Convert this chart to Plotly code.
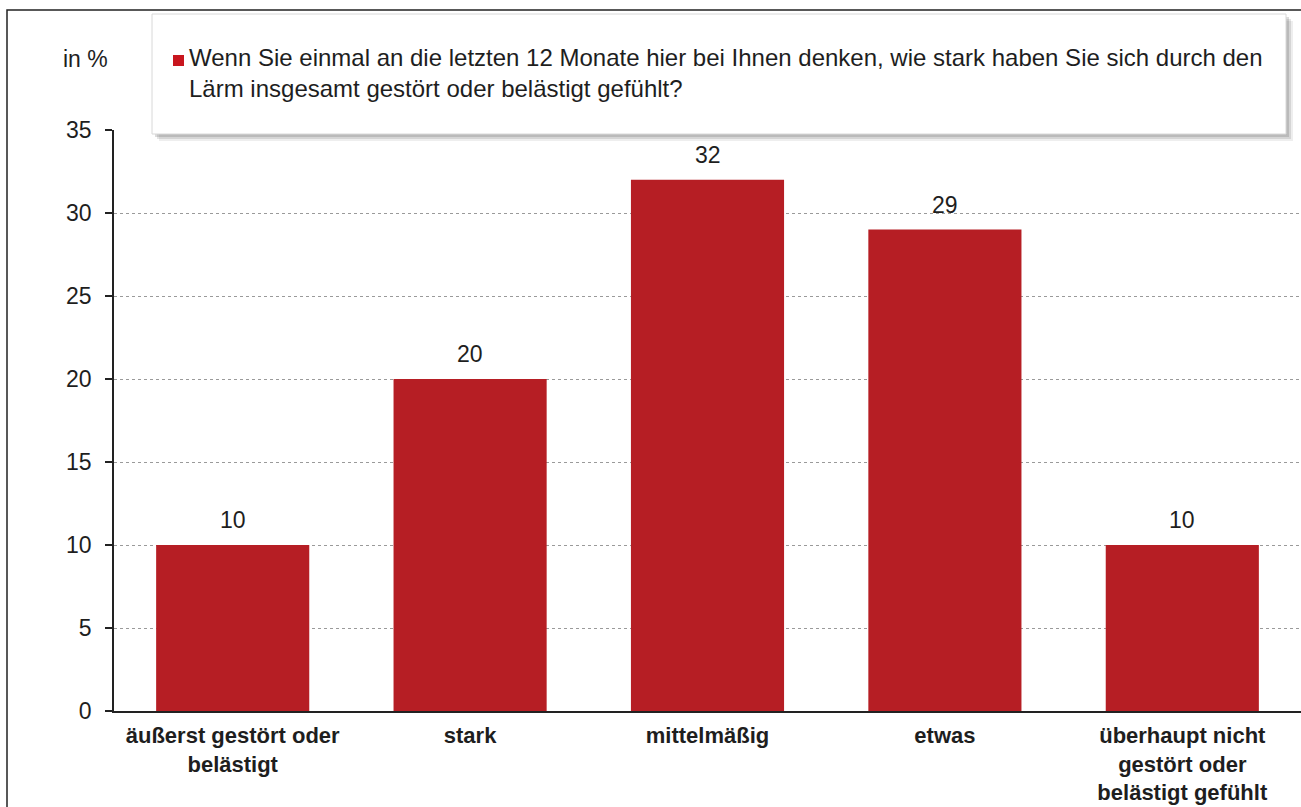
import plotly.graph_objects as go

# Survey answers (percent)
categories = [
    "äußerst gestört oder<br>belästigt",
    "stark",
    "mittelmäßig",
    "etwas",
    "überhaupt nicht<br>gestört oder<br>belästigt gefühlt",
]
values = [10, 20, 32, 29, 10]
y_ticks = [0, 5, 10, 15, 20, 25, 30, 35]
question = ("Wenn Sie einmal an die letzten 12 Monate hier bei Ihnen denken, wie stark haben Sie sich durch den<br>"
            "Lärm insgesamt gestört oder belästigt gefühlt?")

BAR_COLOR = "#B61E24"
FONT = "Liberation Sans, Arial, sans-serif"
TEXT_COLOR = "#1e1e1e"

FIG_W, FIG_H = 1301, 807
M_L, M_R, M_T, M_B = 114, 0, 130, 96
PLOT_W = FIG_W - M_L - M_R
PLOT_H = FIG_H - M_T - M_B


def px_x(px):
    return (px - M_L) / PLOT_W


def px_y(py):
    return (FIG_H - M_B - py) / PLOT_H


fig = go.Figure(
    go.Bar(
        x=categories,
        y=values,
        marker=dict(color=BAR_COLOR, line=dict(width=0)),
        hoverinfo="x+y",
    )
)

shapes = []
# outer frame
shapes.append(dict(type="rect", xref="paper", yref="paper",
                   x0=px_x(7), x1=px_x(1310), y0=px_y(816), y1=px_y(10),
                   line=dict(color="#222222", width=1.5), fillcolor="rgba(0,0,0,0)", layer="below"))
# question box shadow
for off, op in [(7, 0.10), (5, 0.16), (3, 0.22)]:
    shapes.append(dict(type="rect", xref="paper", yref="paper",
                       x0=px_x(152 + off), x1=px_x(1286 + off),
                       y0=px_y(134 + off), y1=px_y(14 + off),
                       line=dict(width=0), fillcolor=f"rgba(90,90,90,{op})", layer="above"))
# question box
shapes.append(dict(type="rect", xref="paper", yref="paper",
                   x0=px_x(152), x1=px_x(1286), y0=px_y(134), y1=px_y(14),
                   line=dict(color="#d8d8d8", width=1), fillcolor="white", layer="above"))
# legend marker
shapes.append(dict(type="rect", xref="paper", yref="paper",
                   x0=px_x(173), x1=px_x(184), y0=px_y(66), y1=px_y(55),
                   line=dict(width=0), fillcolor="#C8161E", layer="above"))

annotations = []
annotations.append(dict(xref="paper", yref="paper", x=px_x(187), y=px_y(42),
                        xanchor="left", yanchor="top", align="left", showarrow=False,
                        text=question, font=dict(family=FONT, size=24, color=TEXT_COLOR)))
annotations.append(dict(xref="paper", yref="paper", x=px_x(85), y=px_y(59),
                        xanchor="center", yanchor="middle", showarrow=False,
                        text="in %", font=dict(family=FONT, size=23, color=TEXT_COLOR)))
for c, v in zip(categories, values):
    annotations.append(dict(x=c, y=v, xref="x", yref="y", text=f"{v}",
                            yanchor="bottom", yshift=10, showarrow=False,
                            font=dict(family=FONT, size=23, color=TEXT_COLOR)))

fig.update_layout(
    width=FIG_W, height=FIG_H,
    margin=dict(l=M_L, r=M_R, t=M_T, b=M_B),
    paper_bgcolor="white", plot_bgcolor="white",
    bargap=0.355,
    showlegend=False,
    shapes=shapes,
    annotations=annotations,
    font=dict(family=FONT, color=TEXT_COLOR),
)
fig.update_xaxes(
    range=[-0.5, 4.5],
    showline=True, linecolor="#222222", linewidth=1.5,
    ticks="", showgrid=False, automargin=False,
    tickfont=dict(family=FONT, size=22, color=TEXT_COLOR, weight="bold"),
    ticklabelstandoff=4,
)
fig.update_yaxes(
    range=[0, 35], tickvals=y_ticks,
    showline=True, linecolor="#222222", linewidth=1.5,
    ticks="outside", ticklen=7, tickcolor="#222222", tickwidth=1.5,
    showgrid=True, gridcolor="#9a9a9a", gridwidth=1, griddash="dot",
    zeroline=False, automargin=False,
    tickfont=dict(family=FONT, size=23, color=TEXT_COLOR),
    ticklabelstandoff=9,
)

fig.write_html("out.html")
